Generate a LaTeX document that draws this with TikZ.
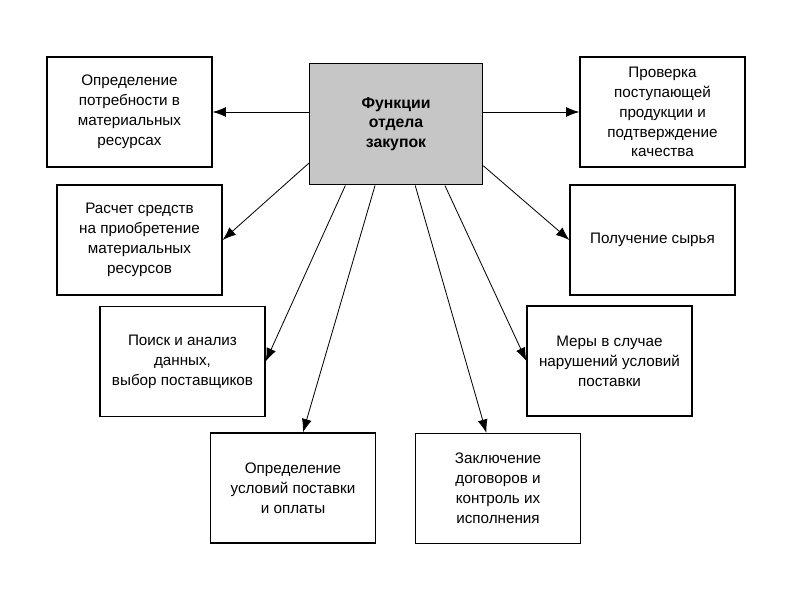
\documentclass[tikz,border=0pt]{standalone}
\usepackage{fontspec}
\setmainfont{Liberation Sans}
\usetikzlibrary{positioning,arrows.meta,calc}

\begin{document}
\begin{tikzpicture}[
    x=0.03cm, y=-0.03cm,
    task/.style={rectangle, draw=black, line width=1.1pt, fill=white,
        minimum width=4.95cm, minimum height=3.3cm, align=center,
        font=\fontsize{13}{17}\selectfont, text=black},
    func/.style={task, fill=gray!45, minimum width=5.2cm, minimum height=3.65cm,
        font=\fontsize{13.5}{16.5}\selectfont\bfseries},
    link/.style={-{Latex[length=4mm,width=3mm]}, line width=0.7pt}
]
\useasboundingbox (0,0) rectangle (800,600);

\node [func] (Fun) at (396,124) {Функции\\отдела\\закупок};

\node [task] (Need)   at (129.5,112) {Определение\\потребности в\\материальных\\ресурсах};
\node [task] (Calc)   at (139.5,240) {Расчет средств\\на приобретение\\материальных\\ресурсов};
\node [task] (Search) at (182.5,361.5) {Поиск и анализ\\данных,\\выбор поставщиков};
\node [task] (Terms)  at (293,488) {Определение\\условий поставки\\и оплаты};
\node [task] (Deal)   at (498,488.5) {Заключение\\договоров и\\контроль их\\исполнения};
\node [task] (Claim)  at (609.5,361) {Меры в случае\\нарушений условий\\поставки};
\node [task] (Raw)    at (652.5,240) {Получение сырья};
\node [task] (Check)  at (662.5,112) {Проверка\\поступающей\\продукции и\\подтверждение\\качества};

% arrows from the centre box
\draw [link] (Fun.west |- Need) -- (Need.east);
\draw [link] (Fun.east |- Check) -- (Check.west);
\draw [link] ($(Fun.south west)!0.18!(Fun.north west)$) -- (Calc.east);
\draw [link] ($(Fun.south east)!0.16!(Fun.north east)$) -- (Raw.west);
\draw [link] ($(Fun.south west)!0.21!(Fun.south east)$) -- (Search.east);
\draw [link] ($(Fun.south west)!0.38!(Fun.south east)$) -- ($(Terms.north west)!0.56!(Terms.north east)$);
\draw [link] ($(Fun.south west)!0.61!(Fun.south east)$) -- ($(Deal.north west)!0.43!(Deal.north east)$);
\draw [link] ($(Fun.south west)!0.78!(Fun.south east)$) -- (Claim.west);

\end{tikzpicture}
\end{document}
